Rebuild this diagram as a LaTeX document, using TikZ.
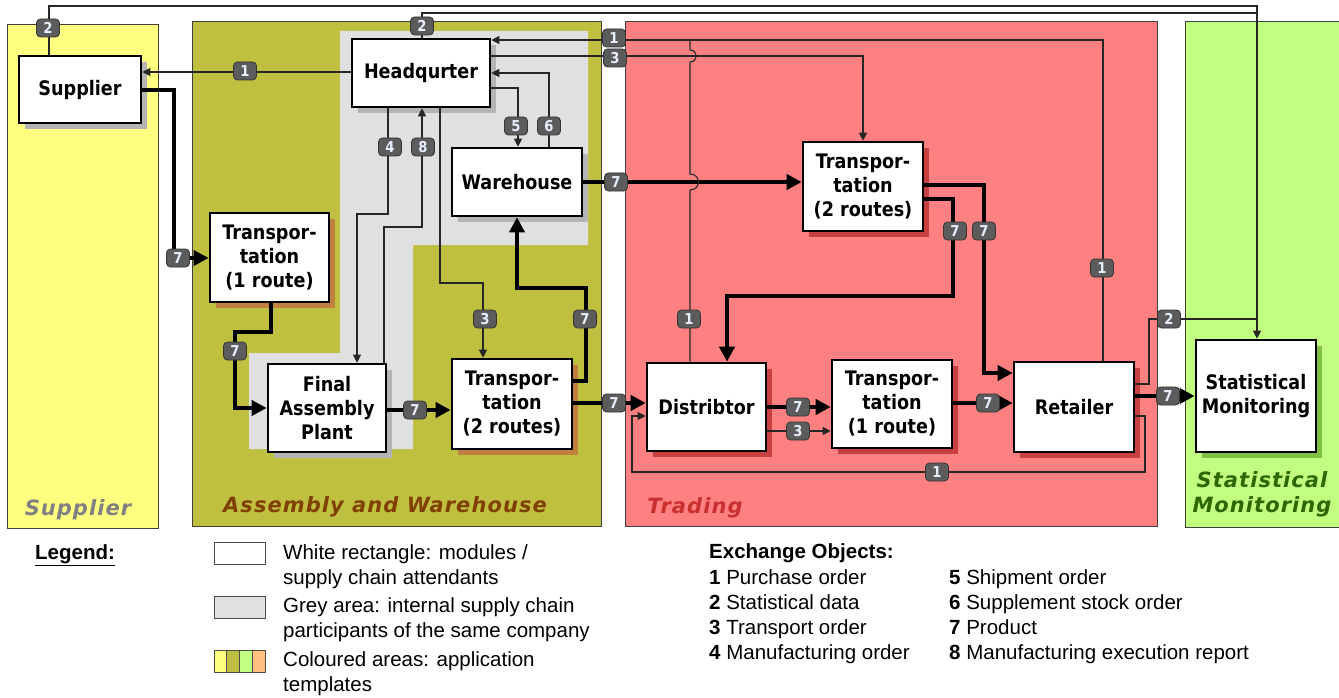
\documentclass[tikz,border=0pt]{standalone}
\usepackage{fontspec}
\setmainfont{Liberation Sans}
\newfontfamily\boxf{DejaVu Sans}[FakeStretch=0.88]
\newfontfamily\areaf{DejaVu Sans}[BoldItalicFont={DejaVu Sans Bold Oblique},LetterSpace=5]
\usetikzlibrary{arrows.meta,shadows}
\definecolor{cyel}{HTML}{FFFF80}
\definecolor{coli}{HTML}{C0C040}
\definecolor{cred}{HTML}{FF8080}
\definecolor{cgrn}{HTML}{C0FF80}
\definecolor{cgry}{HTML}{E0E0E0}
\definecolor{shgc}{HTML}{B4B4B4}
\definecolor{shoc}{HTML}{C08040}
\definecolor{shrc}{HTML}{C84040}
\definecolor{shgrc}{HTML}{80C040}
\definecolor{corg}{HTML}{FFC080}
\definecolor{bdg}{HTML}{5C5C5C}
\definecolor{bdgt}{HTML}{E6EEFF}
\definecolor{lsup}{HTML}{808080}
\definecolor{lasm}{HTML}{804000}
\definecolor{ltrd}{HTML}{C83030}
\definecolor{lsm}{HTML}{2E6600}
\tikzset{
  area/.style={draw=black!75,line width=0.8pt},
  mod/.style={draw=black,line width=2.6pt,fill=white,inner sep=0pt,align=center,
    font=\boxf\bfseries\fontsize{20}{24}\selectfont},
  sgrey/.style={drop shadow={shadow xshift=6pt,shadow yshift=-6pt,fill=shgc,opacity=1}},
  sorange/.style={drop shadow={shadow xshift=6pt,shadow yshift=-6pt,fill=shoc,opacity=1}},
  sred/.style={drop shadow={shadow xshift=6pt,shadow yshift=-6pt,fill=shrc,opacity=1}},
  sgreen/.style={drop shadow={shadow xshift=6pt,shadow yshift=-6pt,fill=shgrc,opacity=1}},
  thinl/.style={line width=1.1pt,draw=black!85},
  thk/.style={line width=4.5pt,draw=black},
  ta/.style={-{Triangle[length=8pt,width=8pt]}},
  tb/.style={-{Triangle[length=15pt,width=15pt]}},
  badge/.style={fill=bdg,draw=black!80,line width=0.8pt,rounded corners=4pt,
    minimum width=23pt,minimum height=18pt,inner sep=0pt,text=bdgt,
    font=\boxf\bfseries\fontsize{15}{15}\selectfont},
  alabel/.style={inner sep=0pt,align=center,font=\areaf\bfseries\itshape\fontsize{21}{25}\selectfont},
  lg/.style={anchor=base west,inner sep=0pt,font=\fontsize{20.5}{25}\selectfont},
  lgb/.style={draw=black!70,line width=0.8pt}
}
\begin{document}
\begin{tikzpicture}[x=1pt,y=-1pt]
\useasboundingbox (0,0) rectangle (1339,698);
\fill[white] (0,0) rectangle (1339,698);
% coloured areas
\draw[area,fill=cyel] (7,24) rectangle (158,528);
\draw[area,fill=coli] (192,21) rectangle (601,526);
\draw[area,fill=cred] (625,21) rectangle (1157,526);
\draw[area,fill=cgrn] (1185,21) rectangle (1345,527);
% grey area
\fill[cgry] (340,31) -- (588,31) -- (588,245) -- (413,245) -- (413,449) -- (249,449) -- (249,353) -- (340,353) -- cycle;
% area labels
\node[alabel,text=lsup] (lsupl) at (78,510) {Supplier};
\node[alabel,text=lasm] (lasml) at (385,507) {Assembly and Warehouse};
\node[alabel,text=ltrd] (ltrdl) at (695,508) {Trading};
\node[alabel,text=lsm] (lsml) at (1262,494) {Statistical\\Monitoring};
% modules
\node[mod,sgrey,minimum width=122pt,minimum height=67pt] (sup) at (80,89.5) {Supplier};
\node[mod,sgrey,minimum width=138pt,minimum height=68pt] (hq) at (421,73) {Headqurter};
\node[mod,sgrey,minimum width=130pt,minimum height=68pt] (wh) at (517,182) {Warehouse};
\node[mod,sorange,minimum width=119pt,minimum height=89pt] (t1l) at (269.5,257.5) {Transpor-\\tation\\(1 route)};
\node[mod,sgrey,minimum width=118pt,minimum height=88pt] (fap) at (327,408) {Final\\Assembly\\Plant};
\node[mod,sorange,minimum width=120pt,minimum height=90pt] (t2m) at (512,404) {Transpor-\\tation\\(2 routes)};
\node[mod,sred,minimum width=119pt,minimum height=88pt] (dist) at (706.5,407) {Distribtor};
\node[mod,sred,minimum width=120pt,minimum height=89pt] (t2r) at (863,186.5) {Transpor-\\tation\\(2 routes)};
\node[mod,sred,minimum width=120pt,minimum height=88pt] (t1r) at (892,404) {Transpor-\\tation\\(1 route)};
\node[mod,sred,minimum width=120pt,minimum height=90pt] (ret) at (1074,407) {Retailer};
\node[mod,sgreen,minimum width=120pt,minimum height=112pt] (sm) at (1256,396) {Statistical\\Monitoring};
% connectors
\draw[thinl,ta] (sup.north -| 49,0) -- (49,6) -- (1257,6) -- (sm.north -| 1257,0);
\draw[thinl] (hq.north -| 422,0) -- (422,13) -- (1257,13);
\draw[thinl,ta] (hq.west |- 0,72) -- (sup.east |- 0,72);
\draw[thk,tb] (sup.east |- 0,90) -- (174,90) -- (174,258) -- (t1l.west |- 0,258);
\draw[thk,tb] (t1l.south -| 271,0) -- (271,332) -- (235,332) -- (235,408) -- (fap.west |- 0,408);
\draw[thk,tb] (fap.east |- 0,410) -- (t2m.west |- 0,410);
\draw[thinl,ta] (hq.south -| 388,0) -- (388,214) -- (357,214) -- (fap.north -| 357,0);
\draw[thinl,ta] (fap.north -| 384,0) -- (384,227) -- (422,227) -- (hq.south -| 422,0);
\draw[thinl,ta] (hq.south -| 440,0) -- (440,283) -- (483,283) -- (t2m.north -| 483,0);
\draw[thinl,ta] (hq.east |- 0,88) -- (518,88) -- (wh.north -| 518,0);
\draw[thinl,ta] (wh.north -| 549,0) -- (549,73) -- (hq.east |- 0,73);
\draw[thk,tb] (t2m.east |- 0,381) -- (586,381) -- (586,288) -- (517,288) -- (wh.south -| 517,0);
\draw[thk,tb] (wh.east |- 0,182) -- (t2r.west |- 0,182);
\draw[thk,tb] (t2m.east |- 0,403) -- (dist.west |- 0,403);
\draw[thinl,ta] (hq.east |- 0,56) -- (863,56) -- (t2r.north -| 863,0);
\draw[thinl,ta] (ret.north -| 1103,0) -- (1103,40) -- (hq.east |- 0,40);
\draw[thinl] (dist.north -| 690,0) -- (690,190) to[out=0,in=0,looseness=1.8] (690,174) -- (690,62) to[out=0,in=0,looseness=1.8] (690,50) -- (690,40);
\draw[thk,tb] (t2r.east |- 0,199) -- (953,199) -- (953,296) -- (727,296) -- (dist.north -| 727,0);
\draw[thk,tb] (t2r.east |- 0,185) -- (984,185) -- (984,373) -- (ret.west |- 0,373);
\draw[thk,tb] (dist.east |- 0,407) -- (t1r.west |- 0,407);
\draw[thinl,ta] (dist.east |- 0,431) -- (t1r.west |- 0,431);
\draw[thk,tb] (t1r.east |- 0,403) -- (ret.west |- 0,403);
\draw[thk,tb] (ret.east |- 0,396) -- (sm.west |- 0,396);
\draw[thinl,ta] (ret.east |- 0,416) -- (1145,416) -- (1145,472) -- (632,472) -- (632,416) -- (dist.west |- 0,416);
\draw[thinl] (ret.east |- 0,384) -- (1149,384) -- (1149,319) -- (1257,319);
% badges
\node[badge] (b01) at (48,28) {2};
\node[badge] (b02) at (422,26) {2};
\node[badge] (b03) at (245,71) {1};
\node[badge] (b04) at (178,258) {7};
\node[badge] (b05) at (235,351) {7};
\node[badge] (b06) at (415,410) {7};
\node[badge] (b07) at (390,147) {4};
\node[badge] (b08) at (423,147) {8};
\node[badge] (b09) at (485,319) {3};
\node[badge] (b10) at (516,126) {5};
\node[badge] (b11) at (549,126) {6};
\node[badge] (b12) at (585,319) {7};
\node[badge] (b13) at (616,182) {7};
\node[badge] (b14) at (614,403) {7};
\node[badge] (b15) at (614,38) {1};
\node[badge] (b16) at (615,58) {3};
\node[badge] (b17) at (689,319) {1};
\node[badge] (b18) at (1102,268) {1};
\node[badge] (b19) at (955,231) {7};
\node[badge] (b20) at (984,231) {7};
\node[badge] (b21) at (798,407) {7};
\node[badge] (b22) at (798,431) {3};
\node[badge] (b23) at (988,403) {7};
\node[badge] (b24) at (1168,396) {7};
\node[badge] (b25) at (937,472) {1};
\node[badge] (b26) at (1169,319) {2};
% legend
\node[lg,font=\bfseries\fontsize{20.5}{25}\selectfont] (leg) at (35,559) {\underline{Legend:}};
\draw[lgb,fill=white] (214,542) rectangle (265,564);
\draw[lgb,fill=cgry] (214,596) rectangle (265,618);
\fill[cyel] (214,650) rectangle (226.75,672);
\fill[coli] (226.75,650) rectangle (239.5,672);
\fill[cgrn] (239.5,650) rectangle (252.25,672);
\fill[corg] (252.25,650) rectangle (265,672);
\draw[lgb] (214,650) rectangle (265,672) (226.75,650) -- (226.75,672) (239.5,650) -- (239.5,672) (252.25,650) -- (252.25,672);
\node[lg] (l1) at (283,559) {White rectangle: modules /};
\node[lg] (l2) at (283,584) {supply chain attendants};
\node[lg] (l3) at (283,612) {Grey area: internal supply chain};
\node[lg] (l4) at (283,637) {participants of the same company};
\node[lg] (l5) at (283,666) {Coloured areas: application};
\node[lg] (l6) at (283,691) {templates};
\node[lg,font=\bfseries\fontsize{20.5}{25}\selectfont] (ex) at (709,558) {Exchange Objects:};
\node[lg] (e1) at (709,584) {\textbf{1} Purchase order};
\node[lg] (e2) at (709,609) {\textbf{2} Statistical data};
\node[lg] (e3) at (709,634) {\textbf{3} Transport order};
\node[lg] (e4) at (709,659) {\textbf{4} Manufacturing order};
\node[lg] (e5) at (949,584) {\textbf{5} Shipment order};
\node[lg] (e6) at (949,609) {\textbf{6} Supplement stock order};
\node[lg] (e7) at (949,634) {\textbf{7} Product};
\node[lg] (e8) at (949,659) {\textbf{8} Manufacturing execution report};
\end{tikzpicture}
\end{document}
